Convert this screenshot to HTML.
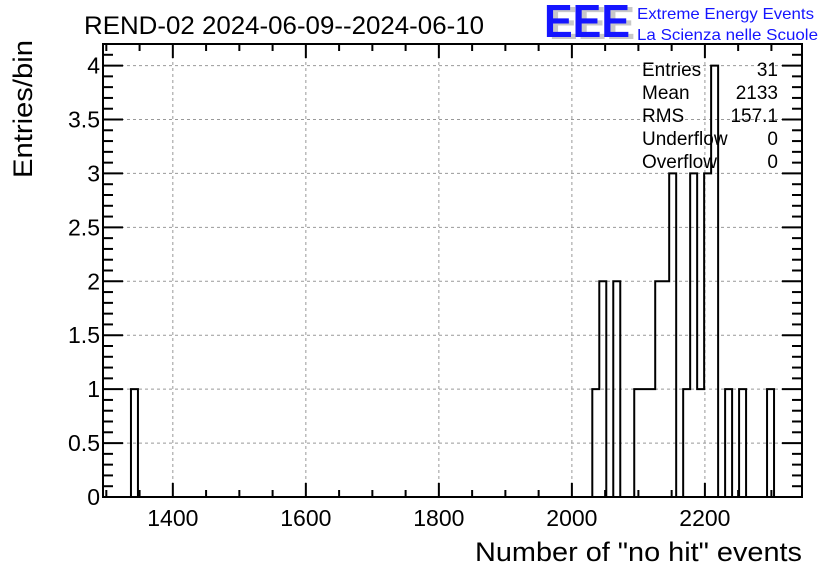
<!DOCTYPE html>
<html><head><meta charset="utf-8"><style>
body{margin:0;background:#fff}
svg{display:block;font-family:"Liberation Sans",sans-serif}
</style></head><body>
<svg id="c" width="836" height="572">
<rect width="836" height="572" fill="#fff"/>
<text x="84" y="34" font-size="25" textLength="400" lengthAdjust="spacingAndGlyphs">REND-02 2024-06-09--2024-06-10</text>
<g>
<text x="549" y="39" font-size="46" font-weight="bold" fill="#c8c8c8" textLength="86" lengthAdjust="spacingAndGlyphs">EEE</text>
<text x="544" y="37" font-size="46" font-weight="bold" fill="#1515ff" textLength="86" lengthAdjust="spacingAndGlyphs">EEE</text>
<text x="637" y="19" font-size="16" fill="#1515ff" textLength="177" lengthAdjust="spacingAndGlyphs">Extreme Energy Events</text>
<text x="637" y="40" font-size="16" fill="#1515ff" textLength="181" lengthAdjust="spacingAndGlyphs">La Scienza nelle Scuole</text>
</g>
<g id="grid"></g>
<g id="hist"></g>
<g id="axes"></g>
<g font-size="19">
<text x="642" y="76">Entries</text><text x="778" y="76" text-anchor="end">31</text>
<text x="642" y="99">Mean</text><text x="778" y="99" text-anchor="end">2133</text>
<text x="642" y="122">RMS</text><text x="778" y="122" text-anchor="end">157.1</text>
<text x="642" y="145">Underflow</text><text x="778" y="145" text-anchor="end">0</text>
<text x="642" y="168">Overflow</text><text x="778" y="168" text-anchor="end">0</text>
</g>
<text x="802" y="561" font-size="27" text-anchor="end" textLength="327" lengthAdjust="spacingAndGlyphs">Number of "no hit" events</text>
<text transform="translate(32,40) rotate(-90)" font-size="27" text-anchor="end" textLength="138" lengthAdjust="spacingAndGlyphs">Entries/bin</text>
</svg>
<script>
const binCount = 100;
const xRange = [1295, 2346];
const yRange = [0, 4.2];
const filledBins = [4, 70, 71, 73, 76, 77, 78, 79, 80, 81, 83, 84, 85, 86, 87, 89, 91, 95];
const binCounts =  [1, 1, 2, 2, 1, 1, 1, 2, 2, 3, 1, 3, 1, 3, 4, 1, 1, 1];
const xTicks = [1400, 1600, 1800, 2000, 2200];
const yTicks = [0, 0.5, 1, 1.5, 2, 2.5, 3, 3.5, 4];
const yTickLabels = ["0", "0.5", "1", "1.5", "2", "2.5", "3", "3.5", "4"];

const L = 103, R = 802, T = 44, B = 497;
const NS = "http://www.w3.org/2000/svg";
function X(v){return L + (v - xRange[0]) / (xRange[1] - xRange[0]) * (R - L);}
function Y(v){return B - (v - yRange[0]) / (yRange[1] - yRange[0]) * (B - T);}
function mk(tag, attrs, parent){const e=document.createElementNS(NS,tag);for(const k in attrs)e.setAttribute(k,attrs[k]);parent.appendChild(e);return e;}
const grid = document.getElementById('grid'), axes = document.getElementById('axes'), hist = document.getElementById('hist');

xTicks.forEach(v=>{
  const g = mk('line',{x1:X(v),x2:X(v),y1:T,y2:B,stroke:'#999','stroke-dasharray':'3,3','stroke-width':1},grid);
  
  
});
yTicks.forEach(v=>{
  const g = mk('line',{x1:L,x2:R,y1:Y(v),y2:Y(v),stroke:'#999','stroke-dasharray':'3,3','stroke-width':1},grid);
  
  
});

const w = (xRange[1] - xRange[0]) / binCount;
const counts = new Array(binCount).fill(0);
filledBins.forEach((b,i)=>{counts[b] = binCounts[i];});
let d = 'M' + X(xRange[0]) + ',' + Y(0);
for (let i = 0; i < binCount; i++) {
  const x0 = X(xRange[0] + i*w), x1 = X(xRange[0] + (i+1)*w);
  d += ' L' + x0 + ',' + Y(counts[i]) + ' L' + x1 + ',' + Y(counts[i]);
}
d += ' L' + X(xRange[1]) + ',' + Y(0);
const p = mk('path',{d:d,fill:'none',stroke:'#000','stroke-width':2},hist);



const fr = mk('rect',{x:L,y:T,width:R-L,height:B-T,fill:'none',stroke:'#000','stroke-width':2},axes);



for (let v = 1300; v <= xRange[1]; v += 50) {
  const major = v % 200 === 0;
  const len = major ? 14 : 7;
  mk('line',{x1:X(v),x2:X(v),y1:B,y2:B-len,stroke:'#000','stroke-width':2},axes);
  mk('line',{x1:X(v),x2:X(v),y1:T,y2:T+len,stroke:'#000','stroke-width':2},axes);
}
xTicks.forEach(v=>{
  const t = mk('text',{x:X(v),y:B+29,'font-size':23,'text-anchor':'middle'},axes);
  t.textContent = v;
  
  
});
for (let k = 0; k <= 42; k++) {
  const v = k/10;
  const major = k % 5 === 0;
  const len = major ? 20 : 10;
  mk('line',{x1:L,x2:L+len,y1:Y(v),y2:Y(v),stroke:'#000','stroke-width':2},axes);
  mk('line',{x1:R,x2:R-len,y1:Y(v),y2:Y(v),stroke:'#000','stroke-width':2},axes);
}
yTicks.forEach((v,i)=>{
  const t = mk('text',{x:L-3,y:Y(v)+8,'font-size':23,'text-anchor':'end'},axes);
  t.textContent = yTickLabels[i];
  
  
});
</script>
</body></html>
